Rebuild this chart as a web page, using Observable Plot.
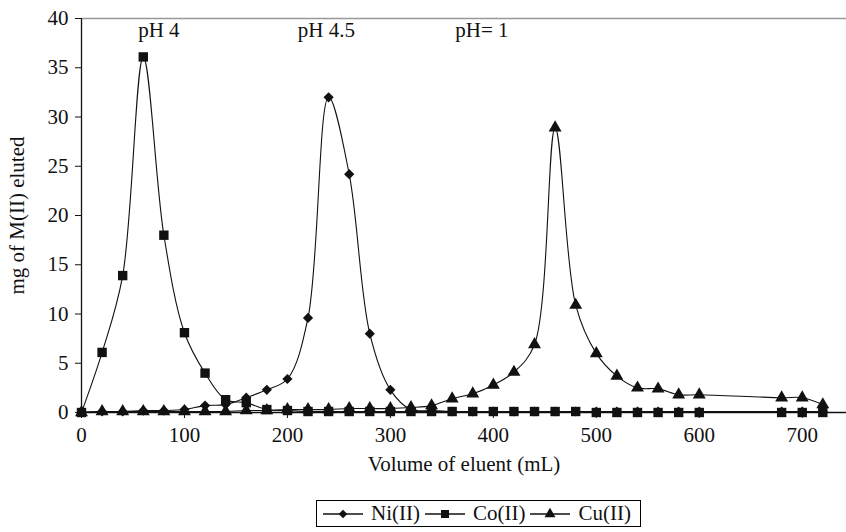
<!DOCTYPE html>
<html>
<head>
<meta charset="utf-8">
<script src="https://cdn.jsdelivr.net/npm/d3@7"></script>
<script src="https://cdn.jsdelivr.net/npm/@observablehq/plot@0.6"></script>
<style>
  html, body { margin: 0; padding: 0; background: #fff; }
  #wrap { position: relative; width: 846px; height: 532px; font-family: "Liberation Serif", "Times New Roman", serif; }
  #legend { position: absolute; left: 316px; top: 500px; height: 27px; border: 1px solid #000; display: flex; align-items: center; padding: 0 6px 0 4px; font-size: 21px; color: #111; box-sizing: border-box; }
  #legend .item { display: flex; align-items: center; }
  #legend svg { display: block; }
  #legend span { margin: 0 3px 0 6px; }
</style>
</head>
<body>
<div id="wrap"><div id="chart"></div><div id="legend"></div></div>
<script>
// ---- data ----
const volume = [0, 20, 40, 60, 80, 100, 120, 140, 160, 180, 200, 220, 240, 260, 280, 300,
                320, 340, 360, 380, 400, 420, 440, 460, 480, 500, 520, 540, 560, 580, 600,
                680, 700, 720];
const niValues = [0, 0.1, 0.1, 0.2, 0.2, 0.3, 0.7, 0.8, 1.5, 2.3, 3.4, 9.6, 32.0, 24.2, 8.0, 2.3,
                  0.3, 0.2, 0.1, 0.1, 0.1, 0.1, 0.1, 0.1, 0.1, 0.1, 0.1, 0.1, 0.1, 0.1, 0.1,
                  0.1, 0.1, 0.1];
const coValues = [0, 6.1, 13.9, 36.1, 18.0, 8.1, 4.0, 1.3, 1.0, 0.3, 0.2, 0.1, 0.1, 0.1, 0.1, 0.1,
                  0.1, 0.1, 0.1, 0.1, 0.1, 0.1, 0.1, 0.1, 0.1, 0.0, 0.0, 0.0, 0.0, 0.0, 0.0,
                  0.0, 0.0, 0.0];
const cuValues = [0, 0.1, 0.1, 0.1, 0.1, 0.1, 0.1, 0.1, 0.2, 0.2, 0.3, 0.3, 0.3, 0.4, 0.4, 0.4,
                  0.5, 0.7, 1.4, 1.9, 2.8, 4.1, 6.9, 28.9, 10.9, 6.0, 3.7, 2.5, 2.4, 1.8, 1.8,
                  1.5, 1.5, 0.8];
const seriesNames = ["Ni(II)", "Co(II)", "Cu(II)"];
const xTicks = [0, 100, 200, 300, 400, 500, 600, 700];
const yTicks = [0, 5, 10, 15, 20, 25, 30, 35, 40];
const annotationText = ["pH 4", "pH 4.5", "pH= 1"];
const annotationX = [55, 210, 363];
const annotationY = [38.8, 38.8, 38.8];

// ---- build table ----
const allValues = [niValues, coValues, cuValues];
const rows = [];
seriesNames.forEach((s, i) => volume.forEach((v, j) => rows.push({series: s, x: v, y: allValues[i][j]})));
const notes = annotationText.map((t, i) => ({text: t, x: annotationX[i], y: annotationY[i]}));
const symbolOf = {"Ni(II)": "diamond2", "Co(II)": "square", "Cu(II)": "triangle"};
const radiusOf = {"Ni(II)": 4.6, "Co(II)": 5.3, "Cu(II)": 4.8};

const chart = Plot.plot({
  width: 846,
  height: 490,
  marginLeft: 81,
  marginRight: 0,
  marginTop: 18,
  marginBottom: 78,
  style: {fontFamily: "'Liberation Serif', 'Times New Roman', serif", fontSize: "21px", background: "#fff", color: "#111", overflow: "visible"},
  x: {domain: [0, 743]},
  y: {domain: [0, 40]},
  marks: [
    Plot.ruleY([40], {stroke: "#999", strokeWidth: 1.5}),
    Plot.axisX({ticks: xTicks, tickSize: 6, tickPadding: 9, tickFormat: d => String(d),
                label: "Volume of eluent (mL)", labelAnchor: "center", labelArrow: "none", labelOffset: 58}),
    Plot.axisY({ticks: yTicks, tickSize: 6, tickPadding: 7, tickFormat: d => String(d),
                label: "mg of M(II) eluted", labelAnchor: "center", labelArrow: "none", labelOffset: 72}),
    Plot.ruleY([0], {stroke: "#111", strokeWidth: 1.3}),
    Plot.ruleX([0], {stroke: "#111", strokeWidth: 1.3}),
    Plot.line(rows, {x: "x", y: "y", z: "series", curve: "catmull-rom", stroke: "#111", strokeWidth: 1.1}),
    ...seriesNames.map(s => Plot.dot(rows.filter(r => r.series === s), {
      x: "x", y: "y", symbol: () => symbolOf[s], r: radiusOf[s], fill: "#111", stroke: "none"
    })),
    Plot.text(notes, {x: "x", y: "y", text: "text", textAnchor: "start", fontSize: 21, fill: "#111"})
  ]
});
document.getElementById("chart").appendChild(chart);

// ---- legend ----
const legend = d3.select("#legend");
seriesNames.forEach(s => {
  const item = legend.append("div").attr("class", "item");
  const svg = item.append("svg").attr("width", 44).attr("height", 16);
  svg.append("line").attr("x1", 2).attr("x2", 42).attr("y1", 8).attr("y2", 8).attr("stroke", "#111").attr("stroke-width", 1.3);
  const sym = {"Ni(II)": d3.symbolDiamond2, "Co(II)": d3.symbolSquare, "Cu(II)": d3.symbolTriangle}[s];
  const size = Math.PI * (radiusOf[s] * 0.85) ** 2;
  svg.append("path").attr("d", d3.symbol(sym, size)()).attr("transform", "translate(22,8)").attr("fill", "#111");
  item.append("span").text(s);
});
</script>
</body>
</html>
